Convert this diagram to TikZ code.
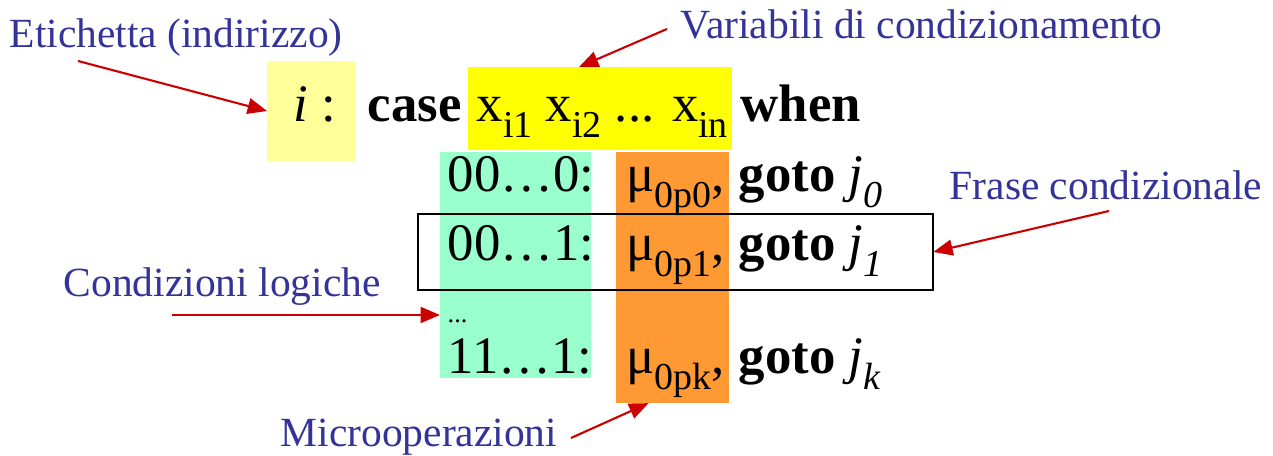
\documentclass[tikz,border=0pt]{standalone}
\usepackage{fontspec}
\setmainfont{Liberation Serif}
\usetikzlibrary{arrows.meta,positioning,calc}

\definecolor{noteblue}{RGB}{51,51,153}
\definecolor{paleyel}{RGB}{255,255,153}
\definecolor{brightyel}{RGB}{255,255,0}
\definecolor{mint}{RGB}{153,255,204}
\definecolor{tangerine}{RGB}{255,153,51}
\definecolor{ptrred}{RGB}{204,0,0}

% lowered subscript, as in the slide
\newcommand{\dnsub}[1]{\raisebox{-0.3em}{\scalebox{0.72}{#1}}}

\begin{document}
\begin{tikzpicture}[x=0.01cm, y=-0.01cm,
    band/.style={inner sep=0, outer sep=0, anchor=north west},
    code/.style={anchor=base west, inner sep=0, font=\fontsize{15}{18}\selectfont},
    note/.style={anchor=base west, inner sep=0, text=noteblue, font=\fontsize{11.8}{14}\selectfont},
    ptr/.style={-{Triangle[length=5.5pt,width=4.5pt]}, ptrred, line width=0.6pt}
]
\useasboundingbox (0,0) rectangle (1273,456);

% coloured bands
\node[band, fill=paleyel, minimum width=0.88cm, minimum height=1cm] (lab) at (267,61) {};
\node[band, fill=brightyel, minimum width=2.64cm, minimum height=0.83cm] (vars) at (468,67) {};
\node[band, fill=mint, minimum width=1.51cm, minimum height=2.26cm] (conds) at (440,152) {};
\node[band, fill=tangerine, minimum width=1.13cm, minimum height=2.51cm] (micro) at (616,152) {};

% header line
\node[code] (itxt) at (293,122) {\textit{i} :};
\node[code] (case) at (367,122) {\textbf{case}};
\node[code] (xs) at (476,122) {x\dnsub{i1} x\dnsub{i2} ... x\dnsub{in}};
\node[code] (when) at (740,122) {\textbf{when}};

% rows
\node[code] (c0) at (447,192) {00…0:};
\node[code] (m0) at (626,192) {μ\dnsub{0p0},};
\node[code] (g0) at (738,192) {\textbf{goto} \textit{j}\dnsub{\textit{0}}};
\node[code] (c1) at (447,261) {00…1:};
\node[code] (m1) at (626,261) {μ\dnsub{0p1},};
\node[code] (g1) at (738,261) {\textbf{goto} \textit{j}\dnsub{\textit{1}}};
\node[code, font=\fontsize{7.5}{9}\selectfont] (cdots) at (447,323) {...};
\node[code] (ck) at (447,374) {11…1:};
\node[code] (mk) at (626,374) {μ\dnsub{0pk},};
\node[code] (gk) at (738,374) {\textbf{goto} \textit{j}\dnsub{\textit{k}}};

% conditional sentence box
\node[band, draw=black, line width=0.5pt, minimum width=5.15cm, minimum height=0.76cm] (frase) at (418,214) {};

% notes
\node[note] (etich) at (9,48) {Etichetta (indirizzo)};
\node[note] (varlbl) at (680,39) {Variabili di condizionamento};
\node[note] (fraselbl) at (949,200) {Frase condizionale};
\node[note] (condlbl) at (63,297) {Condizioni logiche};
\node[note] (microlbl) at (280,447) {Microoperazioni};

\coordinate (etail) at (78,61);
\coordinate (vtail) at (667,29);
\coordinate (ftail) at (1109,211);
\coordinate (ctail) at (172,315);
\coordinate (mtail) at (571,438);

\draw[ptr] (etail) -- (lab.west);
\draw[ptr] (vtail) -- ([xshift=1.11cm]vars.north west);
\draw[ptr] (ftail) -- (frase.east);
\draw[ptr] (ctail) -- (ctail -| conds.west);
\draw[ptr] (mtail) -- ([xshift=-0.24cm]micro.south);
\end{tikzpicture}
\end{document}
